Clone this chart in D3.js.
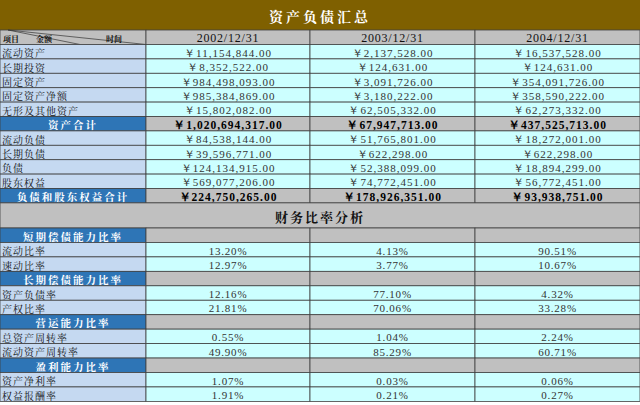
<!DOCTYPE html><html><head><meta charset="utf-8"><script src="https://cdn.jsdelivr.net/npm/d3@7"></script>
<style>body{margin:0;background:#fff}</style></head><body><svg id="c" width="640" height="405"></svg>
<script>
const years=["2002/12/31","2003/12/31","2004/12/31"];
const bsLabels=["流动资产","长期投资","固定资产","固定资产净额","无形及其他资产","资产合计","流动负债","长期负债","负债","股东权益","负债和股东权益合计"];
const bsTotal=[5,10];
const bs2002=["￥11,154,844.00","￥8,352,522.00","￥984,498,093.00","￥985,384,869.00","￥15,802,082.00","￥1,020,694,317.00","￥84,538,144.00","￥39,596,771.00","￥124,134,915.00","￥569,077,206.00","￥224,750,265.00"];
const bs2003=["￥2,137,528.00","￥124,631.00","￥3,091,726.00","￥3,180,222.00","￥62,505,332.00","￥67,947,713.00","￥51,765,801.00","￥622,298.00","￥52,388,099.00","￥74,772,451.00","￥178,926,351.00"];
const bs2004=["￥16,537,528.00","￥124,631.00","￥354,091,726.00","￥358,590,222.00","￥62,273,332.00","￥437,525,713.00","￥18,272,001.00","￥622,298.00","￥18,894,299.00","￥56,772,451.00","￥93,938,751.00"];
const rLabels=["短期偿债能力比率","流动比率","速动比率","长期偿债能力比率","资产负债率","产权比率","营运能力比率","总资产周转率","流动资产周转率","盈利能力比率","资产净利率","权益报酬率"];
const rHead=[0,3,6,9];
const r2002=["","13.20%","12.97%","","12.16%","21.81%","","0.55%","49.90%","","1.07%","1.91%"];
const r2003=["","4.13%","3.77%","","77.10%","70.06%","","1.04%","85.29%","","0.03%","0.21%"];
const r2004=["","90.51%","10.67%","","4.32%","33.28%","","2.24%","60.71%","","0.06%","0.27%"];

const svg=d3.select("#c");
const cn="'Noto Serif CJK SC','Noto Sans CJK SC',serif", num="'Liberation Serif','DejaVu Serif',serif";
const x=d3.scaleOrdinal().domain([0,1,2,3]).range([0,146,310,475]);
const w=[146,164,165,165];
const rh=14.4;
function cell(xx,y,ww,h,fill){svg.append("rect").attr("x",xx).attr("y",y).attr("width",ww).attr("height",h).attr("fill",fill).attr("stroke","#404040").attr("stroke-width",0.8);}
function txt(xx,y,s,o){const t=svg.append("text").attr("x",xx).attr("y",y).text(s).attr("font-family",o.f||num).attr("font-size",o.s||11).attr("fill",o.c||"#111").attr("text-anchor",o.a||"start").attr("dominant-baseline","central");if(o.b)t.attr("font-weight","bold");if(o.ls)t.attr("letter-spacing",o.ls);}
svg.append("rect").attr("x",0).attr("y",0).attr("width",640).attr("height",30).attr("fill","#7f6000");
txt(320,16,"资产负债汇总",{f:cn,s:14,c:"#fff",a:"middle",ls:3,b:1});
const hy=30,hh=14.5;
cell(0,hy,146,hh,"#c0c0c0");
svg.append("line").attr("x1",8).attr("y1",hy).attr("x2",146).attr("y2",hy+hh).attr("stroke","#333").attr("stroke-width",0.7);
svg.append("line").attr("x1",8).attr("y1",hy).attr("x2",80).attr("y2",hy+hh).attr("stroke","#333").attr("stroke-width",0.7);
txt(3,hy+8,"项目",{f:cn,s:8,b:1});txt(36,hy+8,"金额",{f:cn,s:8,b:1});txt(106,hy+8,"时间",{f:cn,s:8,b:1});
years.forEach((yv,i)=>{cell(x(i+1),hy,w[i+1],hh,"#c0c0c0");txt(x(i+1)+w[i+1]/2,hy+8,yv,{s:12,a:"middle",ls:0.8});});
const bsCols=[bs2002,bs2003,bs2004];
bsLabels.forEach((l,r)=>{const y=44.5+r*rh,tot=bsTotal.includes(r);
 cell(0,y,146,rh,tot?"#2e75b6":"#c5d9f1");
 if(tot)txt(73,y+rh/2+1,l,{f:cn,s:10.5,c:"#fff",a:"middle",b:1,ls:2});else txt(2,y+rh/2+1,l,{f:cn,s:10,ls:1});
 bsCols.forEach((col,i)=>{cell(x(i+1),y,w[i+1],rh,tot?"#c0c0c0":"#ccffff");txt(x(i+1)+w[i+1]/2,y+rh/2+1,col[r],{s:tot?11.5:11,a:"middle",b:tot,c:tot?"#000":"#333",ls:1});});
});
const sy=44.5+11*rh;
cell(0,sy,640,228-sy,"#c0c0c0");
txt(320,(sy+228)/2+1,"财务比率分析",{f:cn,s:13,a:"middle",b:1,ls:2});
const rCols=[r2002,r2003,r2004];
rLabels.forEach((l,r)=>{const y=228+r*14.45,h=14.45,hd=rHead.includes(r);
 cell(0,y,146,h,hd?"#2e75b6":"#c5d9f1");
 if(hd)txt(73,y+h/2+1,l,{f:cn,s:10.5,c:"#fff",a:"middle",b:1,ls:2});else txt(2,y+h/2+1,l,{f:cn,s:10,ls:1});
 rCols.forEach((col,i)=>{cell(x(i+1),y,w[i+1],h,hd?"#c0c0c0":"#ccffff");if(!hd)txt(x(i+1)+w[i+1]/2,y+h/2+1,col[r],{s:11,a:"middle",c:"#333",ls:0.8});});
});
</script></body></html>
